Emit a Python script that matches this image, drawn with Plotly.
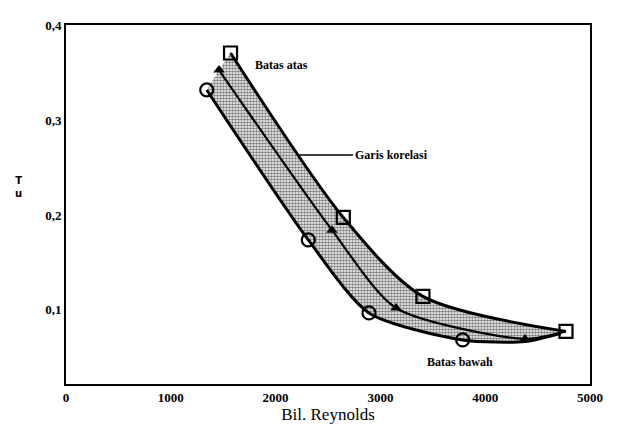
import plotly.graph_objects as go

# Upper bound (Batas atas) - squares
square_re = [1570, 2646, 3406, 4771]
square_tu = [0.3705, 0.1974, 0.1142, 0.0774]

# Correlation line (Garis korelasi) - triangles
tri_re = [1460, 2538, 3149, 4380]
tri_tu = [0.3526, 0.184, 0.102, 0.0695]

# Lower bound (Batas bawah) - circles
circle_re = [1343, 2312, 2891, 3785]
circle_tu = [0.3316, 0.1737, 0.0968, 0.0684]

# band tails toward the right end
lower_tail_re = [4380, 4720]
lower_tail_tu = [0.0668, 0.0755]
mid_tail_re = [4771]
mid_tail_tu = [0.0774]

x_ticks = [0, 1000, 2000, 3000, 4000, 5000]
y_ticks = [0.1, 0.2, 0.3, 0.4]
y_ticktext = ["0,1", "0,2", "0,3", "0,4"]

serif = "Liberation Serif"
pattern = dict(shape=".", fgcolor="black", bgcolor="white", size=3, solidity=0.6)

fig = go.Figure()
fig.add_trace(go.Scatter(
    x=circle_re + lower_tail_re, y=circle_tu + lower_tail_tu,
    mode="lines", line=dict(color="black", width=3, shape="spline", smoothing=0.7),
    hoverinfo="skip"))
fig.add_trace(go.Scatter(
    x=tri_re + mid_tail_re, y=tri_tu + mid_tail_tu,
    mode="lines", line=dict(color="black", width=2.2, shape="spline", smoothing=0.7),
    fill="tonexty", fillpattern=pattern, fillcolor="white", hoverinfo="skip"))
fig.add_trace(go.Scatter(
    x=square_re, y=square_tu,
    mode="lines", line=dict(color="black", width=3, shape="spline", smoothing=0.8),
    fill="tonexty", fillpattern=pattern, fillcolor="white", hoverinfo="skip"))

fig.add_trace(go.Scatter(x=square_re, y=square_tu, mode="markers",
    marker=dict(symbol="square-open", size=13, color="black", line=dict(width=2.2))))
fig.add_trace(go.Scatter(x=circle_re, y=circle_tu, mode="markers",
    marker=dict(symbol="circle-open", size=13, color="black", line=dict(width=2.2))))
fig.add_trace(go.Scatter(x=tri_re, y=tri_tu, mode="markers",
    marker=dict(symbol="triangle-up", size=10, color="black")))

ann_font = dict(family=serif, size=12, color="black", weight="bold")
fig.add_annotation(x=2052, y=0.358, text="Batas atas", showarrow=False, font=ann_font)
fig.add_annotation(x=3760, y=0.0453, text="Batas bawah", showarrow=False, font=ann_font)
fig.add_annotation(x=2214, y=0.2632, ax=2739, ay=0.2632, axref="x", ayref="y",
                   text="Garis korelasi", xanchor="left", showarrow=True,
                   arrowhead=0, arrowwidth=1.5, arrowcolor="black", standoff=0,
                   font=ann_font)
fig.add_annotation(xref="paper", yref="paper", x=-0.09, y=0.55, text="T<br>u",
                   showarrow=False,
                   font=dict(family="DejaVu Sans", size=10, color="black", weight="bold"),
                   xanchor="center", yanchor="middle")

fig.update_layout(
    width=620, height=440, showlegend=False,
    margin=dict(l=66, r=30, t=25, b=56),
    paper_bgcolor="white", plot_bgcolor="white",
    font=dict(family=serif, color="black"),
    xaxis=dict(range=[0, 5000], tickvals=x_ticks, showgrid=False, zeroline=False,
               showline=True, linecolor="black", linewidth=2, mirror=True, ticks="",
               tickfont=dict(family=serif, size=13, weight="bold"),
               title=dict(text="Bil. Reynolds", font=dict(family=serif, size=17), standoff=4)),
    yaxis=dict(range=[0.022, 0.4], tickvals=y_ticks, ticktext=y_ticktext, showgrid=False,
               zeroline=False, showline=True, linecolor="black", linewidth=2, mirror=True,
               ticks="", tickfont=dict(family=serif, size=13, weight="bold")),
)
fig.write_html("out.html")
